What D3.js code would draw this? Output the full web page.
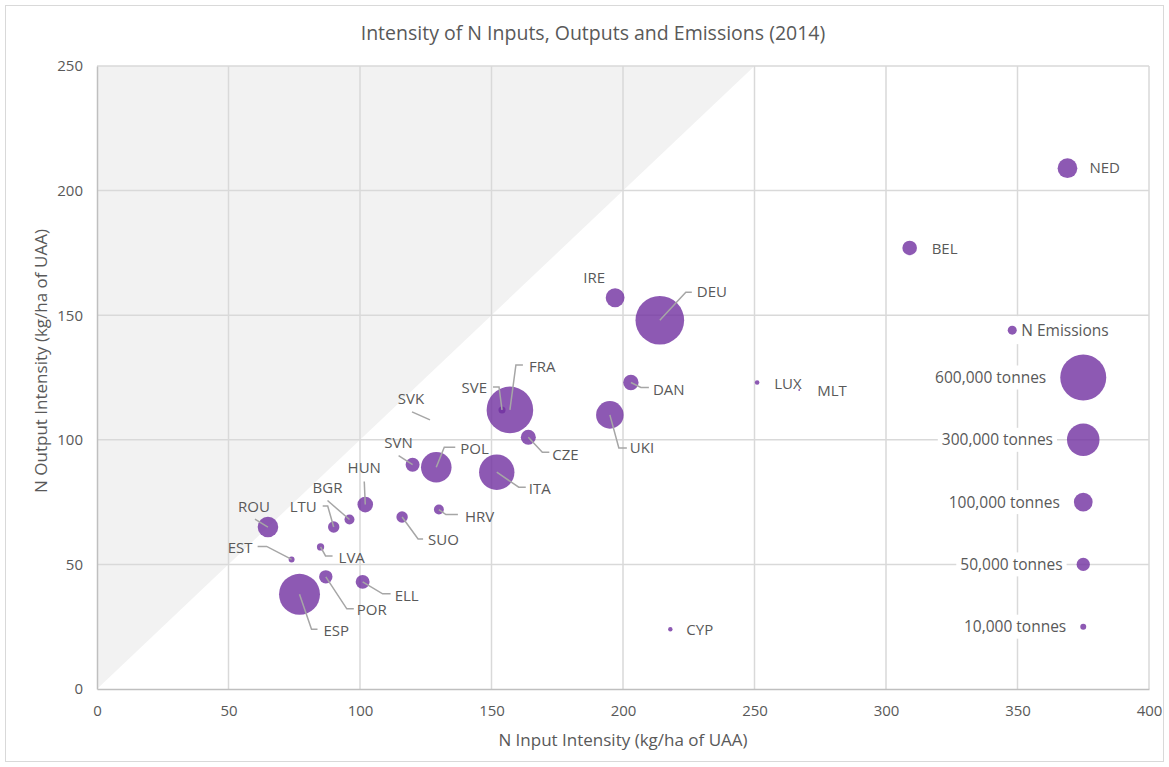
<!DOCTYPE html>
<html>
<head>
<meta charset="utf-8">
<script src="https://cdn.jsdelivr.net/npm/d3@7"></script>
<style>
  body { margin: 0; background: #fff; }
  svg text { font-family: "Open Sans", sans-serif; fill: #595959; }
</style>
</head>
<body>
<svg id="chart"></svg>
<script>
// N balance per country, 2014
const countries = ["NED", "BEL", "IRE", "DEU", "DAN", "UKI", "FRA", "SVE", "CZE", "ITA", "POL", "SVN", "SVK",
                   "HUN", "BGR", "LTU", "ROU", "HRV", "SUO", "LVA", "EST", "ESP", "POR", "ELL", "CYP", "LUX", "MLT"];
const nInput = [369, 309, 197, 214, 203, 195, 157, 154, 164, 152, 129, 120, 127,
                102, 96, 90, 65, 130, 116, 85, 74, 77, 87, 101, 218, 251, 267];
const nOutput = [209, 177, 157, 148, 123, 110, 112, 112, 101, 87, 89, 90, 108,
                 74, 68, 65, 65, 72, 69, 57, 52, 38, 45, 43, 24, 123, 120];
const nEmissions = [110000, 60000, 100000, 670000, 67000, 215000, 615000, 14000, 64000, 355000, 265000, 55000, 0,
                    69000, 28000, 37000, 120000, 28000, 37000, 15000, 10000, 475000, 51000, 55000, 5500, 6000, 1000];

const legendSizes = [600000, 300000, 100000, 50000, 10000];
const legendLabels = ["600,000 tonnes", "300,000 tonnes", "100,000 tonnes", "50,000 tonnes", "10,000 tonnes"];
const xTicks = [0, 50, 100, 150, 200, 250, 300, 350, 400];
const yTicks = [0, 50, 100, 150, 200, 250];

// label placement: offset of the text from the bubble centre (px) and leader line points
const labelPos = {
  NED: {dx: 22, dy: 0},
  BEL: {dx: 22, dy: 1},
  IRE: {dx: -21, dy: -20, anchor: "middle"},
  DEU: {dx: 37, dy: -28, leader: [[0, 0], [26, -28], [32, -28]]},
  DAN: {dx: 22, dy: 7, leader: [[0, 0], [10, 5], [18, 5]]},
  UKI: {dx: 20, dy: 33, leader: [[0, 0], [9, 33], [17, 33]]},
  FRA: {dx: 19, dy: -43, leader: [[0, 0], [6, -45], [13, -45]]},
  SVE: {dx: -15, dy: -22, anchor: "end", leader: [[0, 0], [-3, -23], [-9, -23]]},
  CZE: {dx: 24, dy: 17, leader: [[0, 0], [14, 15], [21, 15]]},
  ITA: {dx: 32, dy: 17, leader: [[0, 0], [22, 15], [29, 15]]},
  POL: {dx: 24, dy: -18, leader: [[0, 0], [8, -20], [19, -20]]},
  SVN: {dx: -14, dy: -22, anchor: "middle", leader: [[0, 0], [-14, -9]]},
  SVK: {dx: -20, dy: -21, anchor: "middle", leader: [[-1, 0], [-19, -8]]},
  HUN: {dx: -1, dy: -37, anchor: "middle", leader: [[0, 0], [-1, -23]]},
  BGR: {dx: -22, dy: -32, anchor: "middle", leader: [[0, 0], [-22, -19]]},
  LTU: {dx: -17, dy: -20, anchor: "end", leader: [[0, 0], [-6, -21], [-11, -21]]},
  ROU: {dx: -14, dy: -20, anchor: "middle", leader: [[0, 0], [-13, -8]]},
  HRV: {dx: 26, dy: 7, leader: [[0, 0], [7, 5], [19, 5]]},
  SUO: {dx: 26, dy: 23, leader: [[0, 0], [16, 22], [21, 22]]},
  LVA: {dx: 18, dy: 11, leader: [[0, 0], [5, 9], [12, 9]]},
  EST: {dx: -39, dy: -12, anchor: "end", leader: [[0, 0], [-25, -13], [-34, -13]]},
  ESP: {dx: 24, dy: 36, leader: [[0, 0], [12, 35], [18, 35]]},
  POR: {dx: 31, dy: 33, leader: [[0, 0], [21, 32], [28, 32]]},
  ELL: {dx: 32, dy: 14, leader: [[0, 0], [20, 12], [28, 12]]},
  CYP: {dx: 16, dy: 1},
  LUX: {dx: 17, dy: 1},
  MLT: {dx: 18, dy: 1}
};

const width = 1169;
const height = 767;
const margin = {top: 66, right: 20, bottom: 78, left: 97};
const innerW = width - margin.left - margin.right;
const innerH = height - margin.top - margin.bottom;
const bubbleColor = "#7030a0";

const svg = d3.select("#chart")
              .attr("width", width)
              .attr("height", height);

// chart border
svg.append("rect")
   .attr("x", 5.5).attr("y", 5.5)
   .attr("width", width - 11).attr("height", height - 11)
   .attr("fill", "none")
   .attr("stroke", "#d9d9d9");

const x = d3.scaleLinear().domain([0, 400]).range([0, innerW]);
const y = d3.scaleLinear().domain([0, 250]).range([innerH, 0]);
const r = d3.scaleSqrt().domain([0, 600000]).range([0, 23]);

const G = svg.append("g")
             .attr("transform", "translate(" + margin.left + "," + margin.top + ")");

// shaded zone where output > input
G.append("path")
 .attr("d", d3.line()([[x(0), y(0)], [x(250), y(250)], [x(0), y(250)]]))
 .attr("fill", "#f2f2f2");

// gridlines
G.append("g")
 .selectAll("line")
 .data(xTicks.slice(1))
 .join("line")
 .attr("x1", d => x(d)).attr("x2", d => x(d))
 .attr("y1", 0).attr("y2", innerH)
 .attr("stroke", "#d9d9d9")
 .attr("stroke-width", 1.5);

G.append("g")
 .selectAll("line")
 .data(yTicks.slice(1))
 .join("line")
 .attr("x1", 0).attr("x2", innerW)
 .attr("y1", d => y(d)).attr("y2", d => y(d))
 .attr("stroke", "#d9d9d9")
 .attr("stroke-width", 1.5);

// axes
const xAxisCall = d3.axisBottom(x).tickValues(xTicks).tickSize(0).tickPadding(16);
const yAxisCall = d3.axisLeft(y).tickValues(yTicks).tickSize(0).tickPadding(14);

const xAxisG = G.append("g")
                .attr("id", "x-axis")
                .attr("transform", "translate(0," + innerH + ")")
                .call(xAxisCall);
const yAxisG = G.append("g")
                .attr("id", "y-axis")
                .call(yAxisCall);

[xAxisG, yAxisG].forEach(a => {
  a.select(".domain").attr("stroke", "#bfbfbf").attr("stroke-width", 1.5);
  a.selectAll("text").style("font-size", "15px").attr("fill", "#595959");
});

// legend (drawn under the bubbles so the bubbles sit on top of the label boxes)
const legendX = 375;
const legendYs = [125, 100, 75, 50, 25];
const legend = G.append("g").attr("class", "legend");

legendSizes.forEach((s, i) => {
  const cx = x(legendX);
  const cy = y(legendYs[i]);
  const item = legend.append("g");
  const t = item.append("text")
                .attr("x", cx - r(s) - 14)
                .attr("y", cy)
                .attr("dy", "0.35em")
                .attr("text-anchor", "end")
                .style("font-size", "15.5px")
                .text(legendLabels[i]);
  const bb = t.node().getBBox();
  item.insert("rect", "text")
      .attr("x", bb.x - 4).attr("y", cy - 12)
      .attr("width", bb.width + 8).attr("height", 24)
      .attr("fill", "#fff");
  item.append("circle")
      .attr("cx", cx).attr("cy", cy).attr("r", r(s))
      .attr("fill", bubbleColor).attr("fill-opacity", 0.8);
});

// series key
const keyG = legend.append("g");
const keyX = x(348);
const keyY = y(144);
keyG.append("rect")
    .attr("x", keyX - 8).attr("y", keyY - 14)
    .attr("width", 110).attr("height", 28)
    .attr("fill", "#fff");
keyG.append("circle")
    .attr("cx", keyX).attr("cy", keyY).attr("r", 4.5)
    .attr("fill", bubbleColor).attr("fill-opacity", 0.8);
keyG.append("text")
    .attr("x", keyX + 9).attr("y", keyY)
    .attr("dy", "0.35em")
    .style("font-size", "15.5px")
    .text("N Emissions");

// bubbles
const data = countries.map((c, i) => ({name: c, xIn: nInput[i], yOut: nOutput[i], em: nEmissions[i]}));

G.append("g")
 .selectAll("circle")
 .data(data.filter(d => d.em > 0))
 .join("circle")
 .attr("class", "bubble")
 .attr("cx", d => x(d.xIn))
 .attr("cy", d => y(d.yOut))
 .attr("r", d => r(d.em))
 .attr("fill", bubbleColor)
 .attr("fill-opacity", 0.8);

// leader lines
G.append("g")
 .selectAll("path")
 .data(data.filter(d => labelPos[d.name].leader))
 .join("path")
 .attr("d", d => d3.line()(labelPos[d.name].leader.map(p => [x(d.xIn) + p[0], y(d.yOut) + p[1]])))
 .attr("fill", "none")
 .attr("stroke", "#a6a6a6")
 .attr("stroke-width", 1.5);

// country labels
G.append("g")
 .selectAll("text")
 .data(data)
 .join("text")
 .attr("x", d => x(d.xIn) + labelPos[d.name].dx)
 .attr("y", d => y(d.yOut) + labelPos[d.name].dy)
 .attr("dy", "0.35em")
 .attr("text-anchor", d => labelPos[d.name].anchor || "start")
 .style("font-size", "15px")
 .text(d => d.name);

// titles
svg.append("text")
   .attr("x", 593).attr("y", 33)
   .attr("dy", "0.35em")
   .attr("text-anchor", "middle")
   .style("font-size", "19.5px")
   .text("Intensity of N Inputs, Outputs and Emissions (2014)");

svg.append("text")
   .attr("x", margin.left + innerW / 2).attr("y", 740)
   .attr("dy", "0.35em")
   .attr("text-anchor", "middle")
   .style("font-size", "17px")
   .text("N Input Intensity (kg/ha of UAA)");

svg.append("text")
   .attr("transform", "translate(41,361) rotate(-90)")
   .attr("dy", "0.35em")
   .attr("text-anchor", "middle")
   .style("font-size", "17px")
   .text("N Output Intensity (kg/ha of UAA)");
</script>
</body>
</html>
